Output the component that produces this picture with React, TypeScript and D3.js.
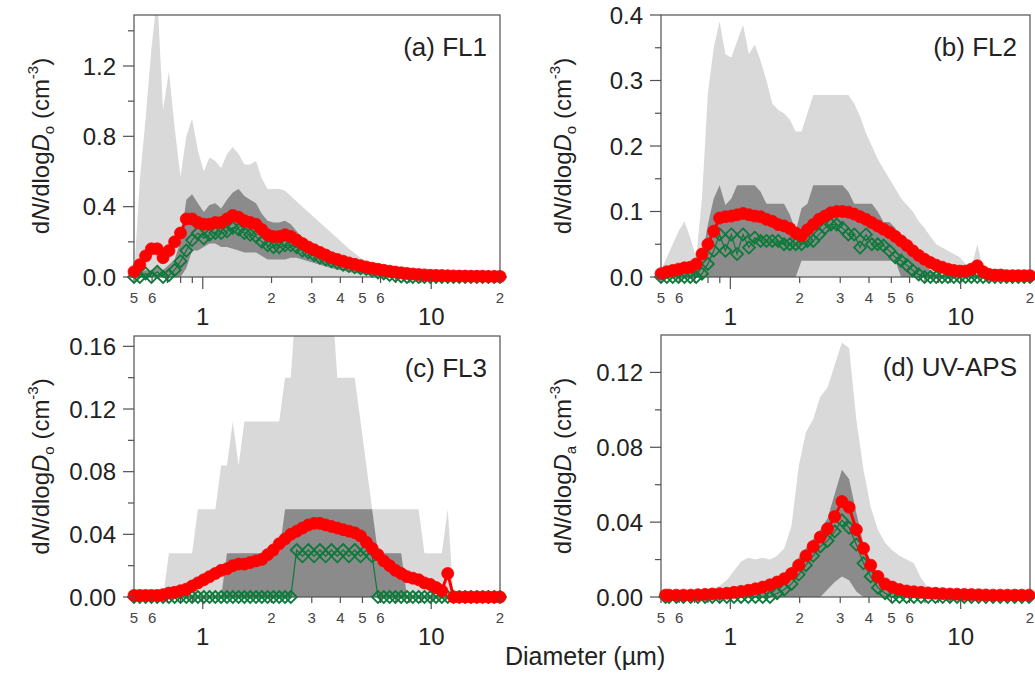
import React from "react";
import * as d3 from "d3";

// WIBS optical-diameter bin midpoints (µm)
const WIBS_D = [
  0.5, 0.53, 0.562, 0.596, 0.632, 0.67, 0.711, 0.753, 0.799, 0.847,
  0.898, 0.952, 1.01, 1.07, 1.135, 1.204, 1.276, 1.353, 1.435, 1.521,
  1.613, 1.71, 1.813, 1.922, 2.038, 2.161, 2.291, 2.429, 2.576, 2.731,
  2.896, 3.07, 3.255, 3.451, 3.659, 3.88, 4.114, 4.362, 4.625, 4.904,
  5.2, 5.513, 5.845, 6.198, 6.572, 6.968, 7.388, 7.834, 8.306, 8.807,
  9.338, 9.905, 10.5, 11.13, 11.81, 12.52, 13.27, 14.08, 14.93, 15.83,
  16.78, 17.79, 18.87, 20.0,
];

// UV-APS aerodynamic-diameter channel midpoints (µm)
const APS_D = [
  0.523, 0.542, 0.583, 0.626, 0.673, 0.723, 0.777, 0.835, 0.898, 0.965,
  1.037, 1.114, 1.197, 1.286, 1.382, 1.486, 1.596, 1.715, 1.843, 1.981,
  2.129, 2.288, 2.458, 2.642, 2.839, 3.051, 3.278, 3.523, 3.786, 4.068,
  4.371, 4.698, 5.048, 5.425, 5.829, 6.264, 6.732, 7.234, 7.774, 8.354,
  8.977, 9.647, 10.37, 11.14, 11.97, 12.86, 13.82, 14.86, 15.96, 17.15,
  18.43, 19.81,
];

// FL1
const FL1_P95 = [
  0, 0.55, 0.9, 1.3, 1.6, 0.95, 1.17, 0.85, 0.57, 0.8,
  0.9, 0.72, 0.6, 0.68, 0.66, 0.62, 0.7, 0.74, 0.7, 0.64,
  0.64, 0.66, 0.56, 0.5, 0.5, 0.5, 0.49, 0.46, 0.43, 0.4,
  0.37, 0.34, 0.31, 0.28, 0.25, 0.22, 0.19, 0.16, 0.135, 0.11,
  0.09, 0.072, 0.056, 0.042, 0.031, 0.022, 0.015, 0.01, 0.007, 0.005,
  0.004, 0.003, 0.003, 0.003, 0.002, 0.002, 0.002, 0.002, 0.002, 0.001,
  0.001, 0.001, 0.001, 0.001,
];
const FL1_P75 = [
  0, 0.02, 0.04, 0.03, 0.06, 0.04, 0.07, 0.1, 0.2, 0.44,
  0.47, 0.42, 0.37, 0.41, 0.42, 0.39, 0.44, 0.48, 0.5, 0.46,
  0.44, 0.42, 0.36, 0.32, 0.31, 0.31, 0.32, 0.3, 0.26, 0.22,
  0.2, 0.18, 0.16, 0.14, 0.12, 0.105, 0.092, 0.08, 0.068, 0.058,
  0.048, 0.04, 0.032, 0.025, 0.019, 0.014, 0.01, 0.007, 0.005, 0.003,
  0.002, 0.002, 0.001, 0.001, 0.001, 0.001, 0.001, 0.001, 0.001, 0.001,
  0.001, 0.001, 0.001, 0.001,
];
const FL1_P25 = [
  0, 0, 0, 0, 0, 0, 0, 0, 0, 0.05,
  0.15, 0.15, 0.17, 0.19, 0.19, 0.17, 0.17, 0.16, 0.15, 0.14,
  0.14, 0.14, 0.12, 0.1, 0.1, 0.1, 0.1, 0.11, 0.11, 0.1,
  0.09, 0.08, 0.07, 0.06, 0.05, 0.042, 0.035, 0.029, 0.023, 0.018,
  0.013, 0.008, 0.004, 0.001, 0, 0, 0, 0, 0, 0,
  0, 0, 0, 0, 0, 0, 0, 0, 0, 0,
  0, 0, 0, 0,
];
const FL1_MED = [
  0, 0, 0.02, 0, 0.03, 0, 0.01, 0.04, 0.09, 0.15,
  0.21, 0.25, 0.22, 0.24, 0.25, 0.25, 0.26, 0.28, 0.27, 0.25,
  0.24, 0.23, 0.2, 0.18, 0.17, 0.17, 0.18, 0.18, 0.17, 0.15,
  0.14, 0.125, 0.11, 0.1, 0.09, 0.08, 0.07, 0.062, 0.055, 0.05,
  0.045, 0.035, 0.026, 0.02, 0.012, 0.007, 0.003, 0, 0, 0,
  0, 0, 0, 0, 0, 0, 0, 0, 0, 0,
  0, 0, 0, 0,
];
const FL1_MEAN = [
  0.03, 0.07, 0.12, 0.16, 0.16, 0.11, 0.15, 0.2, 0.25, 0.33,
  0.33, 0.31, 0.3, 0.3, 0.31, 0.31, 0.33, 0.35, 0.34, 0.32,
  0.31, 0.3, 0.27, 0.24, 0.23, 0.23, 0.24, 0.23, 0.21, 0.19,
  0.17, 0.155, 0.14, 0.125, 0.11, 0.1, 0.09, 0.08, 0.072, 0.064,
  0.057, 0.05, 0.044, 0.038, 0.033, 0.028, 0.024, 0.02, 0.017, 0.014,
  0.012, 0.01, 0.009, 0.008, 0.007, 0.006, 0.005, 0.005, 0.004, 0.004,
  0.004, 0.003, 0.003, 0.003,
];

// FL2
const FL2_P95 = [
  0.01, 0.03, 0.05, 0.07, 0.085, 0.06, 0.03, 0.12, 0.28, 0.35,
  0.39, 0.34, 0.335, 0.36, 0.385, 0.34, 0.355, 0.33, 0.3, 0.265,
  0.255, 0.25, 0.24, 0.222, 0.222, 0.25, 0.278, 0.278, 0.278, 0.278,
  0.278, 0.278, 0.278, 0.265, 0.245, 0.22, 0.2, 0.18, 0.165, 0.15,
  0.135, 0.12, 0.11, 0.1, 0.085, 0.075, 0.062, 0.05, 0.045, 0.04,
  0.035, 0.03, 0.02, 0.015, 0.05, 0.012, 0, 0, 0, 0,
  0, 0, 0, 0,
];
const FL2_P75 = [
  0.005, 0.005, 0.008, 0.01, 0.01, 0.01, 0.012, 0.03, 0.08, 0.12,
  0.14, 0.11, 0.12, 0.14, 0.14, 0.14, 0.14, 0.13, 0.112, 0.112,
  0.112, 0.112, 0.095, 0.07, 0.105, 0.112, 0.14, 0.14, 0.14, 0.14,
  0.14, 0.14, 0.13, 0.112, 0.112, 0.112, 0.112, 0.1, 0.084, 0.084,
  0.075, 0.06, 0.05, 0.04, 0.028, 0.018, 0.01, 0.005, 0.003, 0.003,
  0.002, 0.002, 0.002, 0.002, 0.004, 0.002, 0.001, 0.001, 0.001, 0.001,
  0.001, 0.001, 0.001, 0.001,
];
const FL2_P25 = [
  0, 0, 0, 0, 0, 0, 0, 0, 0, 0,
  0, 0, 0, 0, 0, 0, 0, 0, 0, 0,
  0, 0, 0, 0, 0.025, 0.025, 0.025, 0.025, 0.025, 0.025,
  0.025, 0.025, 0.025, 0.025, 0.025, 0.025, 0.025, 0.025, 0.025, 0.025,
  0.025, 0, 0, 0, 0, 0, 0, 0, 0, 0,
  0, 0, 0, 0, 0, 0, 0, 0, 0, 0,
  0, 0, 0, 0,
];
const FL2_MED = [
  0, 0, 0, 0, 0, 0, 0, 0.005, 0.02, 0.04,
  0.065, 0.04, 0.065, 0.035, 0.065, 0.045, 0.06, 0.055, 0.055, 0.055,
  0.055, 0.05, 0.05, 0.05, 0.05, 0.055, 0.055, 0.065, 0.075, 0.08,
  0.08, 0.075, 0.065, 0.065, 0.045, 0.065, 0.05, 0.05, 0.048, 0.04,
  0.03, 0.025, 0.018, 0.01, 0.004, 0, 0, 0, 0, 0,
  0, 0, 0, 0, 0, 0, 0, 0, 0, 0,
  0, 0, 0, 0,
];
const FL2_MEAN = [
  0.005, 0.008, 0.01, 0.012, 0.014, 0.015, 0.02, 0.035, 0.05, 0.07,
  0.09, 0.092, 0.093, 0.095, 0.097, 0.095, 0.093, 0.092, 0.088, 0.085,
  0.08, 0.078, 0.074, 0.067, 0.063, 0.072, 0.08, 0.088, 0.093, 0.098,
  0.1, 0.1, 0.099, 0.096, 0.092, 0.088, 0.083, 0.078, 0.073, 0.068,
  0.062, 0.055, 0.048, 0.04, 0.033, 0.027, 0.022, 0.018, 0.015, 0.012,
  0.01, 0.009, 0.009, 0.012, 0.017, 0.008, 0.004, 0.003, 0.003, 0.002,
  0.002, 0.002, 0.002, 0.002,
];

// FL3
const FL3_P95 = [
  0, 0, 0, 0, 0, 0, 0.028, 0.028, 0.028, 0.028,
  0.028, 0.056, 0.056, 0.056, 0.056, 0.084, 0.084, 0.112, 0.084, 0.112,
  0.112, 0.112, 0.112, 0.112, 0.112, 0.112, 0.14, 0.14, 0.196, 0.196,
  0.196, 0.196, 0.196, 0.196, 0.196, 0.14, 0.14, 0.14, 0.14, 0.112,
  0.084, 0.056, 0.056, 0.056, 0.056, 0.056, 0.056, 0.056, 0.056, 0.056,
  0.028, 0.028, 0.028, 0.028, 0.056, 0, 0, 0, 0, 0,
  0, 0, 0, 0,
];
const FL3_P75 = [
  0, 0, 0, 0, 0, 0, 0, 0, 0, 0,
  0, 0, 0, 0, 0, 0, 0.028, 0.028, 0.028, 0.028,
  0.028, 0.028, 0.028, 0.028, 0.028, 0.028, 0.056, 0.056, 0.056, 0.056,
  0.056, 0.056, 0.056, 0.056, 0.056, 0.056, 0.056, 0.056, 0.056, 0.056,
  0.056, 0.056, 0.028, 0.028, 0.028, 0.028, 0.028, 0, 0, 0,
  0, 0, 0, 0, 0, 0, 0, 0, 0, 0,
  0, 0, 0, 0,
];
const FL3_MED = [
  0, 0, 0, 0, 0, 0, 0, 0, 0, 0,
  0, 0, 0, 0, 0, 0, 0, 0, 0, 0,
  0, 0, 0, 0, 0, 0, 0, 0, 0.03, 0.026,
  0.03, 0.026, 0.03, 0.026, 0.03, 0.026, 0.03, 0.026, 0.03, 0.026,
  0.03, 0.026, 0, 0, 0, 0, 0, 0, 0, 0,
  0, 0, 0, 0, 0, 0, 0, 0, 0, 0,
  0, 0, 0, 0,
];
const FL3_MEAN = [
  0.001, 0.001, 0.001, 0.001, 0.001, 0.0015, 0.0025, 0.003, 0.004, 0.005,
  0.007, 0.009, 0.011, 0.013, 0.015, 0.017, 0.018, 0.02, 0.021, 0.021,
  0.022, 0.023, 0.024, 0.027, 0.03, 0.034, 0.037, 0.04, 0.042, 0.044,
  0.046, 0.047, 0.047, 0.046, 0.045, 0.044, 0.043, 0.042, 0.041, 0.039,
  0.035, 0.031, 0.027, 0.023, 0.02, 0.017, 0.015, 0.013, 0.012, 0.011,
  0.009, 0.008, 0.006, 0.004, 0.015, 0, 0, 0, 0, 0,
  0, 0, 0, 0,
];

// UV-APS
const UV_P95 = [
  0, 0, 0, 0.001, 0.002, 0.002, 0.003, 0.004, 0.006, 0.009,
  0.014, 0.019, 0.021, 0.02, 0.021, 0.02, 0.022, 0.026, 0.038, 0.07,
  0.088, 0.095, 0.107, 0.112, 0.124, 0.136, 0.133, 0.095, 0.068, 0.048,
  0.036, 0.029, 0.025, 0.022, 0.02, 0.018, 0.01, 0.005, 0.003, 0.002,
  0.002, 0.002, 0.001, 0.001, 0.001, 0.001, 0.001, 0.001, 0.001, 0.001,
  0.001, 0.001,
];
const UV_P75 = [
  0, 0, 0, 0, 0.001, 0.001, 0.001, 0.002, 0.002, 0.003,
  0.003, 0.004, 0.004, 0.005, 0.006, 0.007, 0.009, 0.012, 0.016, 0.021,
  0.026, 0.031, 0.036, 0.042, 0.055, 0.068, 0.063, 0.045, 0.028, 0.016,
  0.009, 0.005, 0.003, 0.002, 0.002, 0.001, 0.001, 0.001, 0.001, 0.001,
  0.001, 0.001, 0.001, 0.001, 0.001, 0.001, 0.001, 0.001, 0.001, 0.001,
  0.001, 0.001,
];
const UV_P25 = [
  0, 0, 0, 0, 0, 0, 0, 0, 0, 0,
  0, 0, 0, 0, 0, 0, 0, 0, 0, 0,
  0, 0, 0, 0.004, 0.008, 0.011, 0.009, 0.003, 0, 0,
  0, 0, 0, 0, 0, 0, 0, 0, 0, 0,
  0, 0, 0, 0, 0, 0, 0, 0, 0, 0,
  0, 0,
];
const UV_MED = [
  0, 0, 0, 0, 0, 0, 0, 0, 0, 0,
  0, 0, 0, 0, 0, 0, 0.002, 0.004, 0.007, 0.012,
  0.017, 0.022, 0.027, 0.03, 0.035, 0.041, 0.037, 0.028, 0.018, 0.011,
  0.005, 0.002, 0, 0, 0, 0, 0, 0, 0, 0,
  0, 0, 0, 0, 0, 0, 0, 0, 0, 0,
  0, 0,
];
const UV_MEAN = [
  0.001, 0.001, 0.001, 0.001, 0.001, 0.0012, 0.0014, 0.0016, 0.0018, 0.002,
  0.0025, 0.003, 0.0036, 0.0044, 0.0053, 0.0065, 0.008, 0.0098, 0.0125, 0.017,
  0.022, 0.027, 0.032, 0.0365, 0.043, 0.051, 0.048, 0.036, 0.026, 0.017,
  0.011, 0.007, 0.0053, 0.004, 0.0032, 0.0028, 0.0025, 0.0022, 0.002, 0.0018,
  0.0016, 0.0015, 0.0014, 0.0013, 0.0012, 0.0011, 0.001, 0.001, 0.001, 0.001,
  0.001, 0.001,
];

// Axis ticks
const X_MAJOR = [1, 10];
const X_MINOR = [0.5, 0.6, 0.7, 0.8, 0.9, 2, 3, 4, 5, 6, 7, 8, 9, 20];
const X_MINOR_LABELED = [0.5, 0.6, 2, 3, 4, 5, 6, 20];

const FONT = "Arial, 'Liberation Sans', Helvetica, sans-serif";
const LIGHT = "#d9d9d9";
const DARK = "#8b8b8b";
const RED = "#ff0000";
const GREEN = "#0c7a3a";

type Spec = {
  id: string;
  title: string;
  sub: string;
  left: number;
  right: number;
  top: number;
  bottom: number;
  yMax: number;
  yMajor: number[];
  yMinor: number[];
  yFmt: string;
  labelX: number;
  diam: number[];
  p95: number[];
  p75: number[];
  p25?: number[];
  med: number[];
  mean: number[];
};

const PANELS: Spec[] = [
  {
    id: "a", title: "(a) FL1", sub: "o",
    left: 134, right: 500, top: 15, bottom: 277,
    yMax: 1.49, yMajor: [0, 0.4, 0.8, 1.2], yMinor: [0.2, 0.6, 1.0, 1.4], yFmt: ".1f",
    labelX: 49,
    diam: WIBS_D, p95: FL1_P95, p75: FL1_P75, p25: FL1_P25, med: FL1_MED, mean: FL1_MEAN,
  },
  {
    id: "b", title: "(b) FL2", sub: "o",
    left: 661, right: 1030, top: 15, bottom: 277,
    yMax: 0.4, yMajor: [0, 0.1, 0.2, 0.3, 0.4], yMinor: [0.05, 0.15, 0.25, 0.35], yFmt: ".1f",
    labelX: 571,
    diam: WIBS_D, p95: FL2_P95, p75: FL2_P75, p25: FL2_P25, med: FL2_MED, mean: FL2_MEAN,
  },
  {
    id: "c", title: "(c) FL3", sub: "o",
    left: 134, right: 500, top: 336, bottom: 597,
    yMax: 0.1666, yMajor: [0, 0.04, 0.08, 0.12, 0.16], yMinor: [0.02, 0.06, 0.1, 0.14], yFmt: ".2f",
    labelX: 49,
    diam: WIBS_D, p95: FL3_P95, p75: FL3_P75, med: FL3_MED, mean: FL3_MEAN,
  },
  {
    id: "d", title: "(d) UV-APS", sub: "a",
    left: 661, right: 1030, top: 335, bottom: 597,
    yMax: 0.14, yMajor: [0, 0.04, 0.08, 0.12], yMinor: [0.02, 0.06, 0.1], yFmt: ".2f",
    labelX: 571,
    diam: APS_D, p95: UV_P95, p75: UV_P75, p25: UV_P25, med: UV_MED, mean: UV_MEAN,
  },
];

function diamondPath(cx: number, cy: number, r: number) {
  return `M${cx},${cy - r}L${cx + r},${cy}L${cx},${cy + r}L${cx - r},${cy}Z`;
}

function Panel({ s }: { s: Spec }) {
  const x = d3.scaleLog().domain([0.5, 20]).range([s.left, s.right]);
  const y = d3.scaleLinear().domain([0, s.yMax]).range([s.bottom, s.top]);
  const idx = d3.range(s.diam.length);
  const fmt = d3.format(s.yFmt);

  const band = (hi: number[], lo?: number[]) =>
    d3
      .area<number>()
      .x((i) => x(s.diam[i]))
      .y0((i) => (lo ? y(lo[i]) : y(0)))
      .y1((i) => y(hi[i]))(idx) || "";
  const line = (v: number[]) =>
    d3
      .line<number>()
      .x((i) => x(s.diam[i]))
      .y((i) => y(v[i]))(idx) || "";

  const clipId = `clip-${s.id}`;
  const cy = (s.top + s.bottom) / 2;

  return (
    <g>
      <defs>
        <clipPath id={clipId}>
          <rect x={s.left} y={s.top} width={s.right - s.left} height={s.bottom - s.top} />
        </clipPath>
      </defs>
      <g clipPath={`url(#${clipId})`}>
        <path d={band(s.p95)} fill={LIGHT} />
        <path d={band(s.p75, s.p25)} fill={DARK} />
      </g>
      <rect
        x={s.left}
        y={s.top}
        width={s.right - s.left}
        height={s.bottom - s.top}
        fill="none"
        stroke="#505050"
        strokeWidth={1.2}
      />

      {/* median: line with open diamonds */}
      <path d={line(s.med)} fill="none" stroke={GREEN} strokeWidth={1.2} />
      {idx.map((i) => (
        <path
          key={`m${i}`}
          d={diamondPath(x(s.diam[i]), y(s.med[i]), 6)}
          fill="none"
          stroke={GREEN}
          strokeWidth={1.8}
        />
      ))}

      {/* mean: line with filled circles */}
      <path d={line(s.mean)} fill="none" stroke={RED} strokeWidth={3} />
      {idx.map((i) => (
        <circle
          key={`c${i}`}
          cx={x(s.diam[i])}
          cy={y(s.mean[i])}
          r={6}
          fill={RED}
          stroke={RED}
          strokeWidth={0.8}
        />
      ))}

      {/* y axis */}
      {s.yMajor.map((v) => (
        <g key={`ym${v}`}>
          <line x1={s.left - 11} x2={s.left} y1={y(v)} y2={y(v)} stroke="#505050" strokeWidth={1.2} />
          <text
            x={s.left - 18}
            y={y(v)}
            dy="0.36em"
            textAnchor="end"
            fontSize={24}
            fontFamily={FONT}
            fill="#222"
          >
            {fmt(v)}
          </text>
        </g>
      ))}
      {s.yMinor.map((v) => (
        <line key={`yn${v}`} x1={s.left - 6} x2={s.left} y1={y(v)} y2={y(v)} stroke="#505050" strokeWidth={1.2} />
      ))}

      {/* x axis */}
      {X_MINOR.map((v) => (
        <line key={`xn${v}`} x1={x(v)} x2={x(v)} y1={s.bottom} y2={s.bottom + 6} stroke="#505050" strokeWidth={1.2} />
      ))}
      {X_MAJOR.map((v) => (
        <line key={`xm${v}`} x1={x(v)} x2={x(v)} y1={s.bottom} y2={s.bottom + 12} stroke="#505050" strokeWidth={1.2} />
      ))}
      {X_MINOR_LABELED.map((v) => (
        <text
          key={`xl${v}`}
          x={x(v)}
          y={s.bottom + 26}
          textAnchor="middle"
          fontSize={15}
          fontFamily={FONT}
          fill="#444"
        >
          {String(Math.round(v < 1 ? v * 10 : v >= 10 ? v / 10 : v))}
        </text>
      ))}
      {X_MAJOR.map((v) => (
        <text
          key={`xL${v}`}
          x={x(v)}
          y={s.bottom + 48}
          textAnchor="middle"
          fontSize={24}
          fontFamily={FONT}
          fill="#222"
        >
          {v}
        </text>
      ))}

      {/* panel title */}
      <text
        x={s.right - 13}
        y={s.top + 41}
        textAnchor="end"
        fontSize={26}
        fontFamily={FONT}
        fill="#222"
      >
        {s.title}
      </text>

      {/* y label */}
      <text
        transform={`translate(${s.labelX},${cy}) rotate(-90)`}
        textAnchor="middle"
        fontSize={24}
        fontFamily={FONT}
        fill="#222"
      >
        d<tspan fontStyle="italic">N</tspan>/dlog<tspan fontStyle="italic">D</tspan>
        <tspan fontSize={15} dy={5}>{s.sub}</tspan>
        <tspan dy={-5}> (cm</tspan>
        <tspan fontSize={15} dy={-11}>-3</tspan>
        <tspan dy={11}>)</tspan>
      </text>
    </g>
  );
}

export default function App() {
  return (
    <svg
      width={1035}
      height={684}
      viewBox="0 0 1035 684"
      style={{ position: "absolute", left: 0, top: 0, background: "#fff" }}
    >
      <rect x={0} y={0} width={1035} height={684} fill="#fff" />
      {PANELS.map((s) => (
        <Panel key={s.id} s={s} />
      ))}
      <text x={505} y={665} fontSize={25} fontFamily={FONT} fill="#222">
        Diameter (µm)
      </text>
    </svg>
  );
}
